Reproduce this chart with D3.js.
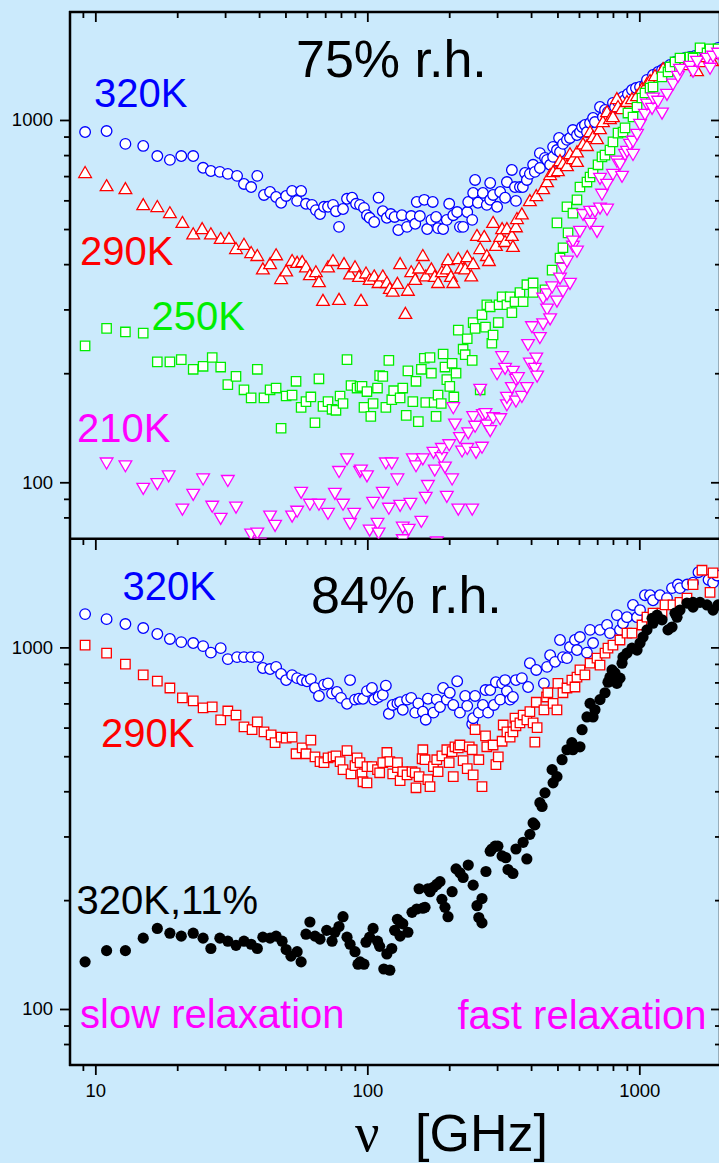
<!DOCTYPE html>
<html><head><meta charset="utf-8">
<script src="https://cdn.jsdelivr.net/npm/d3@7/dist/d3.min.js"></script>
<style>
html,body{margin:0;padding:0;background:#cbeafc;}
svg{display:block;}
</style></head><body>
<svg id="chart" width="719" height="1163"></svg>
<script>
// ---------- DATA: [frequency GHz, value] ----------
const top320K = [[9.17,926],[11.0,932],[12.9,859],[15.0,848],[16.9,795],[18.8,776],[20.7,795],[22.9,795],[24.9,738],[26.6,723],[28.7,719],[30.7,710],[33.2,701],[35.2,666],[37.4,653],[39.4,701],[41.7,621],[43.9,633],[46.2,613],[48.2,591],[50.3,617],[52.9,637],[55.2,598],[57.1,637],[59.5,587],[62.6,583],[64.7,564],[67.0,550],[69.3,576],[71.7,576],[74.8,583],[76.7,560],[78.7,507],[81.4,568],[84.2,606],[87.9,610],[90.9,587],[94.0,583],[97.2,572],[99.7,546],[102,537],[106,523],[110,610],[114,560],[118,537],[122,550],[126,540],[130,497],[134,546],[140,507],[145,543],[150,517],[152,594],[156,543],[162,602],[166,500],[172,530],[174,594],[179,540],[182,503],[190,500],[196,530],[200,587],[207,546],[214,557],[219,507],[225,507],[233,557],[235,594],[243,530],[245,629],[249,683],[255,591],[266,629],[275,583],[283,670],[283,602],[290,621],[300,576],[308,633],[321,610],[326,674],[340,728],[349,653],[352,598],[364,653],[373,653],[380,714],[386,683],[396,710],[407,752],[413,719],[431,810],[431,737],[450,786],[458,776],[470,752],[482,843],[482,791],[498,826],[507,892],[511,816],[524,859],[542,881],[556,892],[570,938],[590,909],[605,926],[616,956],[631,969],[642,926],[659,981],[676,1013],[687,987],[717,1086],[735,1019],[748,1066],[767,1053],[800,1115],[814,1086],[835,1122],[871,1158],[886,1136],[908,1180],[940,1210],[972,1225],[1006,1233],[1049,1249],[1067,1290],[1123,1331],[1172,1357],[1212,1374],[1243,1391],[1297,1418],[1353,1446],[1411,1464],[1472,1483],[1536,1492],[1602,1502],[1672,1531],[1744,1541],[1820,1561],[1947,1581]];

const top290K = [[9.17,710],[11.0,653],[12.9,641],[15.0,579],[16.9,572],[18.8,550],[20.9,517],[22.9,481],[24.7,497],[26.6,481],[28.9,467],[31.0,467],[32.9,438],[35.2,450],[37.4,427],[39.4,419],[41.3,385],[43.9,398],[46.2,421],[48.2,362],[50.3,380],[52.9,406],[55.2,401],[57.6,403],[59.5,390],[61.5,371],[64.7,378],[66.4,355],[68.7,315],[71.7,390],[74.8,406],[78.7,317],[82.1,398],[86.4,373],[90.1,390],[93.2,367],[94.8,315],[98.9,375],[102,360],[106,368],[110,353],[114,368],[118,353],[121,340],[124,334],[129,351],[132,398],[138,290],[141,336],[145,378],[150,360],[155,387],[160,419],[164,368],[172,385],[177,367],[182,353],[188,378],[196,385],[198,408],[203,367],[207,353],[216,411],[221,387],[229,385],[233,416],[241,368],[245,398],[253,476],[260,438],[269,473],[275,419],[280,406],[290,517],[297,447],[308,473],[313,497],[321,458],[326,497],[340,476],[343,444],[352,503],[355,530],[370,546],[396,594],[418,613],[443,641],[458,670],[470,701],[482,714],[502,719],[511,766],[524,752],[542,742],[556,800],[570,776],[590,762],[590,810],[621,852],[642,843],[659,920],[676,892],[699,881],[717,938],[735,981],[761,1045],[780,1000],[800,1013],[827,1136],[835,1080],[864,1066],[901,1115],[940,1136],[981,1158],[1023,1210],[1067,1249],[1095,1274],[1142,1315],[1223,1374],[1297,1357],[1376,1436],[1447,1409],[1536,1464],[1630,1357],[1672,1436],[1774,1483],[1851,1446],[1931,1512]];

const top250K = [[9.17,238],[11.0,266],[12.9,260],[15.0,258],[16.9,215],[18.8,215],[20.7,218],[22.9,205],[24.9,209],[26.9,221],[28.9,208],[30.7,186],[32.9,196],[35.2,180],[37.4,171],[39.4,205],[41.7,171],[43.9,180],[46.2,182],[48.2,141],[50.3,173],[52.9,174],[54.7,190],[57.1,161],[59.5,167],[62.0,172],[64.2,146],[66.4,193],[68.7,162],[71.7,167],[74.2,159],[76.7,158],[79.4,173],[81.4,165],[84.2,218],[87.1,185],[91.7,182],[94.0,184],[95.6,184],[97.2,161],[99.7,178],[103,152],[105,165],[109,182],[111,197],[114,196],[117,161],[120,217],[123,169],[125,179],[132,171],[135,182],[139,153],[141,203],[147,167],[151,190],[154,147],[158,205],[162,220],[164,166],[170,221],[172,200],[176,166],[179,152],[182,174],[187,165],[190,226],[193,208],[196,192],[201,184],[205,213],[208,172],[212,200],[216,263],[225,233],[229,225],[233,249],[243,217],[245,276],[249,266],[260,180],[264,290],[272,268],[275,309],[283,305],[287,242],[290,255],[303,276],[305,309],[313,325],[326,309],[335,325],[340,294],[349,315],[364,334],[374,315],[386,351],[407,355],[407,334],[450,340],[478,385],[498,520],[511,416],[524,444],[542,576],[547,488],[570,553],[590,602],[605,653],[642,674],[659,696],[676,714],[705,752],[729,791],[748,800],[780,826],[800,870],[835,920],[871,926],[886,951],[908,1045],[948,1019],[981,1086],[1023,1150],[1049,1187],[1095,1225],[1123,1233],[1212,1315],[1275,1357],[1297,1401],[1353,1446],[1411,1483],[1536,1492],[1576,1483],[1672,1581],[1774,1531],[1820,1571],[1947,1571]];

const top210K = [[11.0,114],[12.9,112],[15.0,97.0],[16.9,100],[18.6,105],[20.9,85.0],[22.9,93.4],[24.9,103],[26.9,86.6],[28.9,80.2],[30.7,102],[32.9,86.1],[37.4,72.5],[39.4,73.0],[40.3,68.5],[43.9,81.3],[45.8,76.7],[52.9,81.3],[55.2,83.9],[57.1,94.6],[61.5,87.7],[66.4,87.7],[71.7,82.8],[76.0,94.0],[78.7,108],[81.4,87.7],[84.2,117],[86.4,77.7],[89.4,82.8],[94.0,108],[94.8,109],[99.7,105],[102,74.4],[105,88.8],[109,77.7],[110,73.0],[114,94.6],[117,114],[120,85.5],[123,114],[129,103],[132,87.1],[135,75.8],[135,70.0],[142,74.8],[144,88.2],[147,117],[151,112],[158,78.7],[160,117],[164,91.6],[167,98.8],[175,122],[177,109],[180,69.0],[187,118],[188,125],[193,111],[196,92.2],[200,128],[205,103],[207,162],[210,146],[216,85.0],[219,134],[223,123],[233,125],[235,138],[243,85.0],[245,153],[249,144],[251,122],[260,182],[264,126],[266,155],[272,156],[275,145],[283,140],[290,152],[300,201],[308,151],[313,224],[321,208],[326,165],[326,173],[340,184],[343,204],[352,194],[352,169],[358,196],[370,174],[386,184],[390,242],[396,215],[403,271],[413,208],[418,222],[421,198],[431,253],[443,276],[443,325],[458,303],[458,334],[470,285],[478,349],[498,319],[511,369],[524,340],[524,393],[542,411],[556,357],[570,452],[570,467],[590,438],[605,497],[621,553],[659,523],[659,564],[687,564],[699,497],[717,576],[717,696],[729,629],[761,670],[761,572],[800,714],[827,776],[849,762],[864,705],[886,810],[901,826],[924,864],[948,881],[948,810],[981,920],[1006,981],[1049,1045],[1067,1115],[1114,1086],[1123,1158],[1172,1136],[1212,1053],[1264,1187],[1330,1266],[1387,1331],[1411,1391],[1536,1418],[1576,1374],[1630,1464],[1774,1492],[1820,1401],[1867,1512],[1947,1541]];

const bot320K = [[9.17,1236],[11.0,1197],[12.9,1160],[15.0,1131],[16.9,1089],[18.8,1055],[20.7,1034],[22.9,1028],[24.9,1008],[26.6,967],[28.9,995],[30.7,928],[33.2,940],[35.2,940],[37.4,940],[39.7,940],[41.3,877],[43.9,871],[46.2,883],[48.2,844],[50.3,812],[52.9,838],[55.2,822],[57.6,812],[60.0,806],[62.0,817],[64.2,772],[66.4,734],[69.3,789],[71.7,795],[74.2,745],[77.3,753],[80.0,725],[84.2,698],[86.4,812],[90.1,717],[93.2,721],[96.4,721],[99.7,757],[104,772],[106,717],[110,729],[114,739],[117,784],[120,655],[124,693],[129,700],[132,705],[135,672],[140,717],[145,725],[150,660],[154,700],[160,664],[164,631],[167,721],[175,660],[180,717],[185,684],[190,772],[196,717],[201,749],[207,693],[214,806],[219,660],[229,734],[233,689],[243,614],[245,637],[249,734],[257,660],[266,693],[272,762],[278,660],[283,762],[292,693],[297,801],[308,717],[313,795],[321,812],[326,757],[335,717],[343,729],[352,812],[370,822],[390,777],[396,904],[418,866],[446,795],[458,883],[470,951],[490,912],[511,1048],[524,940],[542,934],[556,1002],[580,1048],[590,983],[605,1068],[642,967],[659,1118],[676,1028],[717,1118],[761,1153],[780,1095],[827,1228],[849,1118],[871,1166],[901,1212],[948,1310],[981,1212],[1006,1268],[1049,1394],[1095,1394],[1123,1350],[1192,1394],[1264,1368],[1319,1458],[1387,1492],[1411,1458],[1500,1492],[1576,1510],[1650,1614],[1797,1538],[1867,1510],[1931,1580]];

const bot290K = [[9.17,1015],[11.0,964],[12.9,899],[15.0,839],[16.9,807],[18.8,772],[20.9,725],[22.9,711],[24.9,680],[26.9,685],[28.9,630],[30.7,667],[32.9,650],[35.2,603],[37.7,592],[39.4,622],[41.7,584],[44.3,573],[45.8,545],[48.2,565],[50.3,561],[52.9,565],[54.7,508],[57.6,527],[59.5,508],[62.0,554],[64.2,498],[67.0,483],[69.3,480],[71.7,495],[74.8,498],[76.7,501],[79.4,483],[81.4,459],[84.2,518],[87.1,447],[90.1,471],[91.7,495],[94.0,480],[95.6,447],[96.4,425],[99.7,468],[99.7,422],[104,468],[109,459],[111,450],[114,480],[118,512],[121,483],[124,447],[129,465],[129,480],[132,428],[135,453],[140,444],[146,453],[150,450],[151,409],[155,439],[160,521],[159,492],[163,489],[167,431],[170,412],[175,468],[180,489],[182,453],[188,501],[196,521],[200,480],[205,515],[207,439],[210,531],[216,527],[219,537],[225,486],[233,462],[237,531],[243,521],[245,444],[249,592],[257,489],[264,412],[272,569],[275,531],[290,537],[297,474],[303,498],[313,550],[316,610],[326,584],[335,565],[343,584],[349,637],[352,607],[364,618],[374,650],[386,630],[396,664],[407,618],[413,547],[418,705],[421,600],[446,672],[456,729],[461,749],[482,700],[498,672],[502,795],[524,749],[542,772],[565,812],[580,777],[590,827],[605,866],[631,839],[659,904],[699,934],[717,893],[748,964],[767,995],[800,1015],[849,1048],[901,1095],[940,1095],[1023,1153],[1067,1212],[1123,1243],[1212,1243],[1243,1310],[1330,1310],[1411,1332],[1497,1368],[1576,1492],[1700,1634],[1820,1420],[1867,1608]];

const bot320K11 = [[9.17,135],[11.0,145],[12.9,145],[15.0,157],[16.9,167],[18.8,162],[20.7,159],[22.9,162],[24.9,157],[26.6,147],[28.7,157],[30.7,154],[32.9,150],[35.2,154],[37.4,151],[39.4,147],[41.3,158],[43.9,157],[46.2,159],[48.6,154],[50.3,146],[52.4,140],[55.2,144],[57.1,135],[59.5,161],[61.5,174],[64.2,159],[67.0,156],[70.9,165],[74.2,154],[76.0,163],[78.7,169],[81.4,180],[84.2,158],[86.4,151],[90.1,144],[92.4,133],[94.0,135],[97.2,133],[98.9,153],[102,158],[105,167],[109,154],[111,149],[115,129],[118,142],[121,128],[123,147],[126,165],[129,177],[132,159],[132,174],[135,172],[141,163],[146,185],[152,189],[155,215],[160,190],[163,191],[167,215],[170,211],[175,217],[180,221],[185,225],[188,201],[193,191],[198,180],[205,211],[212,244],[219,238],[225,231],[235,250],[245,220],[253,193],[257,179],[264,173],[264,202],[273,240],[283,273],[287,277],[295,282],[302,282],[313,265],[323,262],[329,243],[343,237],[352,277],[374,289],[386,260],[396,304],[407,327],[413,323],[431,372],[439,363],[450,396],[478,459],[482,422],[498,439],[520,489],[542,521],[565,545],[570,521],[605,531],[616,592],[642,642],[659,700],[676,642],[687,672],[717,717],[748,749],[767,801],[780,827],[794,866],[814,850],[827,795],[849,822],[864,904],[871,940],[901,964],[940,995],[981,983],[1006,1028],[1032,1068],[1067,1118],[1114,1203],[1123,1166],[1162,1228],[1212,1192],[1275,1118],[1319,1138],[1353,1243],[1376,1212],[1411,1268],[1497,1326],[1576,1332],[1576,1292],[1672,1332],[1774,1310],[1867,1268],[1947,1310]];

const xMajorTicks = [10, 100, 1000];
const xMinorTicks = [9, 20, 30, 40, 50, 60, 70, 80, 90, 200, 300, 400, 500, 600, 700, 800, 900];
const yMajorTicks = [100, 1000];
const yMinorTicks = [80, 90, 200, 300, 400, 500, 600, 700, 800, 900];

// ---------- DRAWING ----------
const W = 719, H = 1163;
const BG = "#cbeafc";
const FONT = "'Liberation Sans', Arial, Helvetica, sans-serif";
const svg = d3.select("#chart");
svg.append("rect").attr("width", W).attr("height", H).attr("fill", BG);

const x = d3.scaleLog().domain([8.07, 1980]).range([70, 720]);
const yTop = d3.scaleLog().domain([70, 1990]).range([538.4, 11.7]);
const yBot = d3.scaleLog().domain([70, 1990]).range([1065, 539.3]);

const defs = svg.append("defs");
defs.append("clipPath").attr("id", "clipTop").append("rect")
  .attr("x", 70).attr("y", 12).attr("width", 650).attr("height", 526.5);
defs.append("clipPath").attr("id", "clipBot").append("rect")
  .attr("x", 70).attr("y", 539).attr("width", 650).attr("height", 526);

function axis(gen, transform, values, size, fmt, pad) {
  const g = svg.append("g").attr("transform", transform)
    .call(gen.tickValues(values).tickSize(size).tickPadding(pad || 3)
      .tickFormat(fmt || (() => "")));
  g.select(".domain").remove();
  g.attr("font-family", FONT).attr("font-size", 18.5);
  g.selectAll("line").attr("stroke", "#000").attr("stroke-width", 1.8);
  g.selectAll("text").attr("fill", "#000");
  return g;
}
const fmtInt = d3.format("d");

// Y axes for both panels
[yTop, yBot].forEach(y => {
  axis(d3.axisLeft(y), "translate(70,0)", yMajorTicks, 10, fmtInt, 7);
  axis(d3.axisLeft(y), "translate(70,0)", yMinorTicks, 6);
  axis(d3.axisLeft(y), "translate(720,0)", yMajorTicks, 9);
  axis(d3.axisLeft(y), "translate(720,0)", yMinorTicks, 5);
});
// X axes
axis(d3.axisBottom(x), "translate(0,12)", xMajorTicks, 10);
axis(d3.axisBottom(x), "translate(0,12)", xMinorTicks, 6);
axis(d3.axisBottom(x), "translate(0,539)", xMajorTicks, 11);
axis(d3.axisBottom(x), "translate(0,539)", xMinorTicks, 6);
axis(d3.axisBottom(x), "translate(0,1065)", xMajorTicks, 10, fmtInt, 9);
axis(d3.axisBottom(x), "translate(0,1065)", xMinorTicks, 6);

// Frame
const frame = svg.append("g").attr("stroke", "#000").attr("stroke-width", 2.5);
frame.append("line").attr("x1", 70).attr("x2", 70).attr("y1", 11).attr("y2", 1066);
frame.append("line").attr("x1", 69).attr("x2", 722).attr("y1", 12).attr("y2", 12);
frame.append("line").attr("x1", 69).attr("x2", 722).attr("y1", 538.7).attr("y2", 538.7);
frame.append("line").attr("x1", 69).attr("x2", 722).attr("y1", 1065).attr("y2", 1065);
frame.append("line").attr("x1", 720).attr("x2", 720).attr("y1", 11).attr("y2", 1066);

// Series
function series(data, y, clip, shape, color, opts) {
  const g = svg.append("g").attr("clip-path", `url(#${clip})`);
  if (shape === "dot") {
    g.selectAll("circle").data(data).join("circle")
      .attr("cx", d => x(d[0])).attr("cy", d => y(d[1])).attr("r", 5.6)
      .attr("fill", color);
  } else if (shape === "circle") {
    g.selectAll("circle").data(data).join("circle")
      .attr("cx", d => x(d[0])).attr("cy", d => y(d[1])).attr("r", 5.3)
      .attr("fill", "#fff").attr("stroke", color).attr("stroke-width", 1.3);
  } else {
    const type = shape === "square" ? d3.symbolSquare : d3.symbolTriangle;
    const sym = d3.symbol().type(type).size(opts.size);
    g.selectAll("path").data(data).join("path")
      .attr("d", sym)
      .attr("transform", d => `translate(${x(d[0])},${y(d[1])})` + (shape === "down" ? " rotate(180)" : ""))
      .attr("fill", "#fff").attr("stroke", color).attr("stroke-width", 1.3);
  }
}
series(top320K, yTop, "clipTop", "circle", "#0000ff");
series(top290K, yTop, "clipTop", "up", "#ff0000", {size: 70});
series(top250K, yTop, "clipTop", "square", "#00ee00", {size: 88});
series(top210K, yTop, "clipTop", "down", "#ff00ff", {size: 70});
series(bot320K, yBot, "clipBot", "circle", "#0000ff");
series(bot290K, yBot, "clipBot", "square", "#ff0000", {size: 90});
series(bot320K11, yBot, "clipBot", "dot", "#000000");

// Text
function label(txt, px, py, size, color, family) {
  svg.append("text").attr("x", px).attr("y", py).attr("font-size", size)
    .attr("font-family", family || FONT).attr("fill", color).text(txt);
}
label("75% r.h.", 296, 77, 52, "#000");
label("84% r.h.", 311, 613, 52, "#000");
label("320K", 94, 107, 40, "#0000ff");
label("290K", 80, 265, 40, "#ff0000");
label("250K", 151.5, 330, 40, "#00ee00");
label("210K", 77, 442, 40, "#ff00ff");
label("320K", 122.5, 600, 40, "#0000ff");
label("290K", 101, 747, 40, "#ff0000");
label("320K,11%", 76.5, 914, 40, "#000");
label("slow relaxation", 80, 1028, 40, "#ff00ff");
label("fast relaxation", 457.5, 1029, 40, "#ff00ff");
label("ν", 355, 1151, 54, "#000", "'Liberation Serif', 'DejaVu Serif', serif");
label("[GHz]", 415, 1151, 52, "#000");
</script>
</body></html>
